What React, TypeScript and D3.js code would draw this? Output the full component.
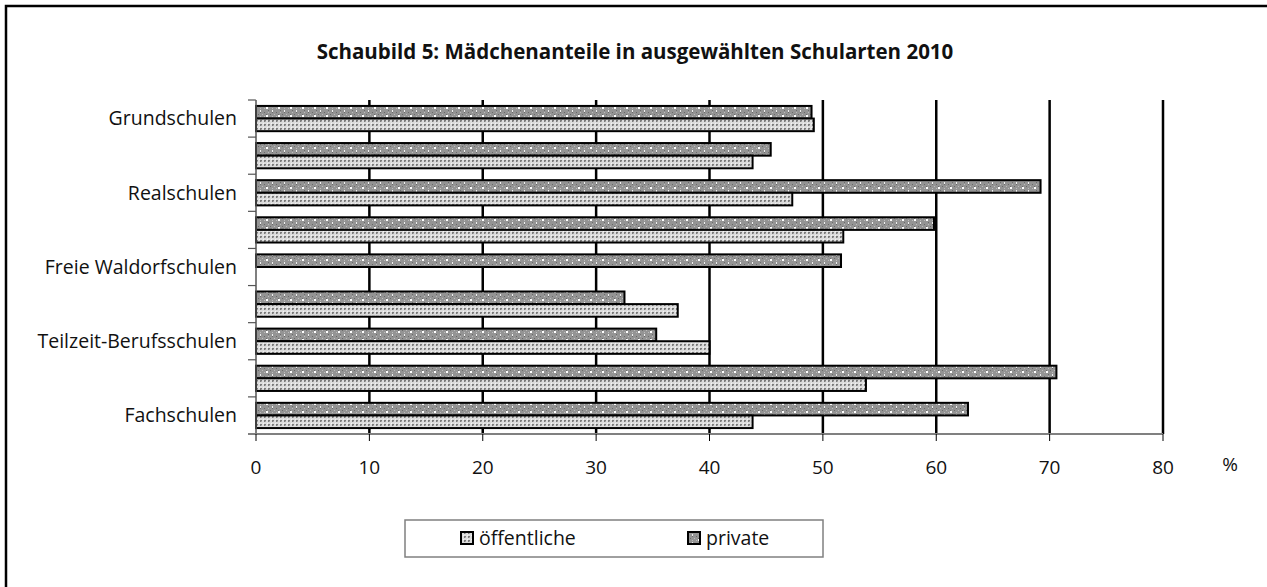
import React from 'react';
import * as d3 from 'd3';

const categories = [
  'Grundschulen',
  'Hauptschulen',
  'Realschulen',
  'Gymnasien',
  'Freie Waldorfschulen',
  'Sonderschulen',
  'Teilzeit-Berufsschulen',
  'Berufsfachschulen',
  'Fachschulen',
];
// only every other category name is printed on the axis
const shownLabels = [true, false, true, false, true, false, true, false, true];

const oeffentliche = [49.2, 43.8, 47.3, 51.8, null, 37.2, 40.0, 53.8, 43.8];
const privat = [49.0, 45.4, 69.2, 59.8, 51.6, 32.5, 35.3, 70.6, 62.8];

const xTicks = [0, 10, 20, 30, 40, 50, 60, 70, 80];
const seriesNames = ['private', 'öffentliche'];
const legendNames = ['öffentliche', 'private'];

const FONT = "'Open Sans', 'Noto Sans', sans-serif";

const App = () => {
  const width = 1267;
  const height = 587;
  const x = d3.scaleLinear().domain([0, 80]).range([256, 1163]);
  const y = d3.scaleBand().domain(categories).range([100, 434]).padding(0);
  const sub = d3
    .scaleBand()
    .domain(seriesNames)
    .range([0, y.bandwidth()])
    .paddingInner(0)
    .paddingOuter(0.47);

  const values = { private: privat, 'öffentliche': oeffentliche };
  const fills = { private: 'url(#patPriv)', 'öffentliche': 'url(#patOeff)' };

  const boundaries = categories.map((c) => y(c)).concat([434]);

  return (
    <svg
      width={width}
      height={height}
      style={{ position: 'absolute', left: 0, top: 0, background: '#fff' }}
      fontFamily={FONT}
    >
      <defs>
        <pattern id="patOeff" width="4" height="4" patternUnits="userSpaceOnUse">
          <rect width="4" height="4" fill="#dcdcdc" />
          <rect x="0" y="0" width="2" height="2" fill="#7a7a7a" />
          <rect x="1" y="1" width="1" height="1" fill="#a8a8a8" />
          <rect x="3" y="3" width="1" height="1" fill="#f4f4f4" />
        </pattern>
        <pattern id="patPriv" width="12" height="8" patternUnits="userSpaceOnUse">
          <rect width="12" height="8" fill="#949494" />
          <rect x="0" y="0" width="1" height="1" fill="#6a6a6a" />
          <rect x="2" y="2" width="1" height="1" fill="#6a6a6a" />
          <rect x="4" y="0" width="1" height="1" fill="#bcbcbc" />
          <rect x="6" y="2" width="1" height="1" fill="#6a6a6a" />
          <rect x="8" y="0" width="1" height="1" fill="#6a6a6a" />
          <rect x="10" y="2" width="1" height="1" fill="#bcbcbc" />
          <rect x="0" y="4" width="1" height="1" fill="#bcbcbc" />
          <rect x="4" y="6" width="1" height="1" fill="#6a6a6a" />
          <rect x="8" y="4" width="1" height="1" fill="#bcbcbc" />
          <rect x="2" y="3" width="2" height="2" fill="#ffffff" />
          <rect x="8" y="6" width="1" height="2" fill="#f0f0f0" />
        </pattern>
      </defs>

      {/* outer frame, open to the right and bottom */}
      <rect x={6} y={6} width={1300} height={700} fill="none" stroke="#000" strokeWidth={2.5} />

      <text
        x={635}
        y={59}
        textAnchor="middle"
        fontSize={20.5}
        fontWeight="bold"
        fill="#111"
      >
        Schaubild 5: Mädchenanteile in ausgewählten Schularten 2010
      </text>

      {/* vertical gridlines */}
      {xTicks.filter((t) => t > 0).map((t) => (
        <line key={t} x1={x(t)} x2={x(t)} y1={100} y2={434} stroke="#000" strokeWidth={2.5} />
      ))}

      {/* bars */}
      {categories.map((c, i) => (
        <g key={c}>
          {seriesNames.map((s) => {
            const v = values[s][i];
            if (v === null) return null;
            return (
              <rect
                key={s}
                x={x(0)}
                y={y(c) + sub(s)}
                width={x(v) - x(0)}
                height={sub.bandwidth()}
                fill={fills[s]}
                stroke="#000"
                strokeWidth={2}
              />
            );
          })}
        </g>
      ))}

      {/* y axis */}
      <line x1={x(0)} x2={x(0)} y1={100} y2={434} stroke="#555" strokeWidth={1.5} />
      {boundaries.map((b, i) => (
        <line key={i} x1={248} x2={x(0)} y1={b} y2={b} stroke="#555" strokeWidth={1.2} />
      ))}
      {categories.map((c, i) =>
        shownLabels[i] ? (
          <text
            key={c}
            x={237}
            y={y(c) + y.bandwidth() / 2}
            dy="0.35em"
            textAnchor="end"
            fontSize={19.5}
            fill="#111"
          >
            {c}
          </text>
        ) : null
      )}

      {/* x axis */}
      <line x1={x(0) - 8} x2={x(80)} y1={434} y2={434} stroke="#808080" strokeWidth={2} />
      {xTicks.map((t) => (
        <g key={t}>
          <line x1={x(t)} x2={x(t)} y1={434} y2={441} stroke="#000" strokeWidth={1} />
          <text x={x(t)} y={467} dy="0.35em" textAnchor="middle" fontSize={19} fill="#111">
            {t}
          </text>
        </g>
      ))}
      <text x={1230} y={464} dy="0.35em" textAnchor="middle" fontSize={19} fill="#111">
        %
      </text>

      {/* legend */}
      <rect x={405} y={520} width={418} height={37} fill="#fff" stroke="#808080" strokeWidth={1.5} />
      {legendNames.map((n, i) => {
        const lx = i === 0 ? 461 : 688;
        return (
          <g key={n}>
            <rect
              x={lx}
              y={532}
              width={12}
              height={12}
              fill={n === 'private' ? 'url(#patPriv)' : 'url(#patOeff)'}
              stroke="#000"
              strokeWidth={2}
            />
            <text x={lx + 18} y={538} dy="0.35em" fontSize={19.5} fill="#111">
              {n}
            </text>
          </g>
        );
      })}
    </svg>
  );
};

export default App;
